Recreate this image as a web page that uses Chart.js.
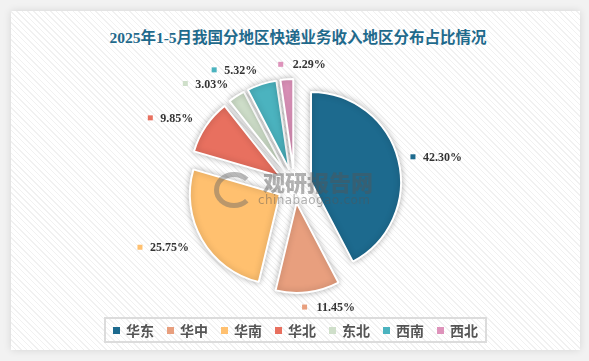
<!DOCTYPE html>
<html>
<head>
<meta charset="utf-8">
<script src="https://cdn.jsdelivr.net/npm/chart.js@4.4.1/dist/chart.umd.min.js"></script>
<style>
  html, body { margin:0; padding:0; }
  body { width:589px; height:361px; background:#f2f2f2; position:relative; overflow:hidden; }
  #card { position:absolute; left:11px; top:11px; width:569px; height:339px;
    background: repeating-linear-gradient(45deg, #ffffff 0px, #ffffff 3px, #f1f1f1 3px, #f1f1f1 4px);
    box-shadow: 0 0 8px rgba(0,0,0,0.12); }
  #title { position:absolute; left:0; top:27px; width:596px; text-align:center;
    font-family:"Liberation Serif","Noto Sans CJK SC",serif; font-weight:700; font-size:15.5px; color:#1f6a8c; line-height:22px; }
  #chart { position:absolute; left:0; top:0; }
  #wm { position:absolute; left:212px; top:168px; width:170px; height:42px; opacity:0.45; pointer-events:none; }
  #wm .t1 { position:absolute; left:51px; top:0px; font-family:"Noto Sans CJK SC",sans-serif; font-weight:900; font-size:22px; line-height:26px; color:#555; letter-spacing:0px; }
  #wm .t2 { position:absolute; left:46px; top:25px; font-family:"DejaVu Sans",sans-serif; font-size:12px; line-height:14px; color:#555; letter-spacing:0.4px; }
  #wm .logo { position:absolute; left:2px; top:4px; width:30px; height:26px; border:5px solid #666; border-radius:50%; border-right-color:transparent; }
  #legend { position:absolute; left:104px; top:317px; width:379px; height:22px; border:2px solid #dcdcdc;
    display:flex; justify-content:center; align-items:center; gap:13px; }
  #legend .it { display:flex; align-items:center; }
  #legend .sq { width:7px; height:7px; margin-right:6px; }
  #legend .tx { font-family:"Noto Sans CJK SC",sans-serif; font-weight:700; font-size:14px; color:#555; line-height:18px; }
</style>
</head>
<body>
<div id="card"></div>
<div id="title">2025年1-5月我国分地区快递业务收入地区分布占比情况</div>
<canvas id="chart" width="589" height="361"></canvas>
<div id="wm"><div class="logo"></div><div class="t1">观研报告网</div><div class="t2">chinabaogao.com</div></div>
<div id="legend"></div>
<script>
const categories = ['华东', '华中', '华南', '华北', '东北', '西南', '西北'];
const shares = [42.30, 11.45, 25.75, 9.85, 3.03, 5.32, 2.29];
const shareLabels = ['42.30%', '11.45%', '25.75%', '9.85%', '3.03%', '5.32%', '2.29%'];
const colors = ['#1d6a8e', '#e89f7e', '#ffc06f', '#e8705f', '#cfdfca', '#4bb3bf', '#de93bb'];

const EXPLODE = 17;

const explodePlugin = {
  id: 'explode',
  afterDatasetsUpdate(chart) {
    const meta = chart.getDatasetMeta(0);
    meta.data.forEach(arc => {
      const mid = (arc.startAngle + arc.endAngle) / 2;
      arc.x += Math.cos(mid) * EXPLODE;
      arc.y += Math.sin(mid) * EXPLODE;
    });
  }
};

const shadowPlugin = {
  id: 'shadow',
  beforeDatasetsDraw(chart) {
    const ctx = chart.ctx;
    ctx.save();
    ctx.shadowColor = 'rgba(0,0,0,0.28)';
    ctx.shadowBlur = 6;
  },
  afterDatasetsDraw(chart) {
    chart.ctx.restore();
  }
};

const labelPlugin = {
  id: 'pieLabels',
  afterDraw(chart) {
    const ctx = chart.ctx;
    const meta = chart.getDatasetMeta(0);
    ctx.save();
    ctx.font = 'bold 12px "Liberation Serif", serif';
    ctx.textBaseline = 'middle';
    meta.data.forEach((arc, i) => {
      const mid = (arc.startAngle + arc.endAngle) / 2;
      const dist = arc.outerRadius + 15;
      const ax = arc.x + Math.cos(mid) * dist;
      const ay = arc.y + Math.sin(mid) * dist;
      const c = Math.cos(mid);
      const txt = shareLabels[i];
      const w = ctx.measureText(txt).width;
      let mx, tx;
      if (c > 0.15) { mx = ax; tx = ax + 10; }
      else if (c < -0.15) { tx = ax - w; mx = tx - 10; }
      else { mx = ax - 5; tx = mx + 12; }
      ctx.fillStyle = colors[i];
      ctx.fillRect(mx - 2.5, ay - 2.5, 5, 5);
      ctx.fillStyle = '#333';
      ctx.textAlign = 'left';
      ctx.fillText(txt, tx, ay + 1);
    });
    ctx.restore();
  }
};

new Chart(document.getElementById('chart'), {
  type: 'pie',
  data: {
    labels: categories,
    datasets: [{
      data: shares,
      backgroundColor: colors,
      borderColor: '#ffffff',
      borderWidth: 2
    }]
  },
  options: {
    responsive: false,
    animation: false,
    events: [],
    radius: 90,
    layout: { padding: { top: 11, bottom: 0, left: 0, right: 0 } },
    plugins: {
      legend: { display: false },
      title: { display: false },
      tooltip: { enabled: false }
    }
  },
  plugins: [explodePlugin, shadowPlugin, labelPlugin]
});

const lg = document.getElementById('legend');
categories.forEach((name, i) => {
  const it = document.createElement('div');
  it.className = 'it';
  const sq = document.createElement('div');
  sq.className = 'sq';
  sq.style.background = colors[i];
  const tx = document.createElement('div');
  tx.className = 'tx';
  tx.textContent = name;
  it.appendChild(sq); it.appendChild(tx);
  lg.appendChild(it);
});
</script>
</body>
</html>
